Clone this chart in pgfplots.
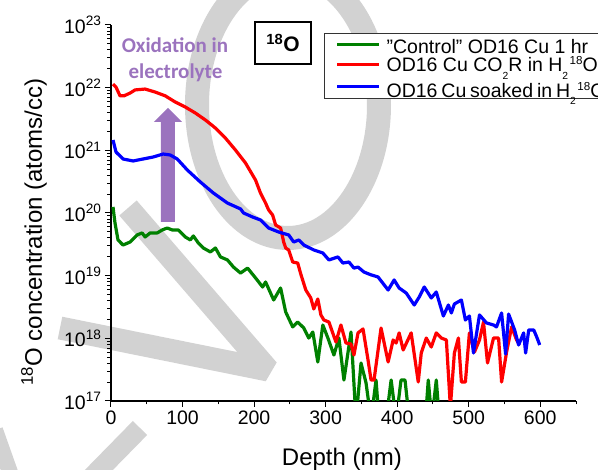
\documentclass[border=0pt]{standalone}
\usepackage{fontspec}
\setmainfont{Liberation Sans}
\newfontfamily\carlito{Carlito}
\usepackage{pgfplots}
\pgfplotsset{compat=1.18}
\usepackage{pgfplotstable}
\definecolor{cgreen}{RGB}{0,128,0}
\definecolor{cred}{RGB}{255,0,0}
\definecolor{cblue}{RGB}{0,0,255}
\definecolor{cpurple}{RGB}{155,115,190}
\definecolor{wm}{RGB}{210,210,210}
\newcommand\lsub[1]{\raisebox{-7.3pt}{\fontsize{10.3}{10}\selectfont #1}}
\newcommand\lsup[1]{\hspace{1.5pt}\raisebox{7pt}{\fontsize{11.6}{11}\selectfont #1}}

\pgfplotstableread{
x y
2.8 1.25e20
5.6 6.92e19
9.8 3.71e19
16.8 3.08e19
26.7 3.44e19
36.5 4.46e19
43.5 4.80e19
47.7 4.14e19
54.7 4.80e19
64.6 4.80e19
71.6 5.36e19
78.6 5.76e19
85.6 5.36e19
94.0 5.36e19
103.9 4.14e19
110.9 3.71e19
115.1 4.30e19
122.1 3.32e19
129.1 2.76e19
138.9 2.39e19
146.0 2.76e19
153.0 1.99e19
162.8 1.78e19
171.2 1.37e19
181.1 1.10e19
190.9 1.32e19
202.1 9.18e18
211.9 6.59e18
216.1 7.92e18
227.4 4.09e18
237.1 6.35e18
244.2 2.63e18
254.0 1.52e18
261.0 1.82e18
269.5 1.46e18
276.5 1.01e18
282.1 1.26e18
289.1 4.19e17
296.1 1.63e18
303.2 1.01e18
311.6 5.42e17
318.6 1.01e18
325.6 2.16e17
335.5 1.26e18
342.5 5e16
349.5 4.04e17
356.5 1.94e17
363.5 5e16
370.5 2.16e17
374.7 5e16
384.6 5e16
391.6 2.16e17
398.6 5e16
405.4 2.16e17
411.0 2.16e17
417.0 5e16
439.5 5e16
443.5 2.16e17
448.5 5e16
454.7 2.16e17
459.0 5e16
}\greendata

\pgfplotstableread{
x y
2.8 1.14e22
7.0 1.02e22
12.6 7.4e21
18.2 7.4e21
26.7 8.2e21
33.7 9.2e21
47.7 9.5e21
61.8 8.5e21
75.8 7.4e21
89.8 5.9e21
103.9 4.9e21
117.9 3.94e21
131.9 3.05e21
145.9 2.27e21
159.9 1.57e21
174.0 1.01e21
188.0 6.28e20
202.0 3.36e20
209.0 2.08e20
216.1 1.44e20
220.3 1.12e20
225.9 9.29e19
230.1 6.43e19
237.1 5.76e19
241.4 3.44e19
244.2 2.76e19
248.4 2.57e19
254.0 1.65e19
261.0 1.59e19
265.3 1.06e19
272.3 5.90e18
279.3 4.40e18
283.5 2.94e18
289.1 4.24e18
293.4 2.36e18
297.6 1.96e18
304.6 1.82e18
314.4 8.74e17
321.4 1.63e18
328.4 8.42e17
335.5 8.12e17
339.6 5.42e17
345.3 1.22e18
352.3 1.41e18
359.3 4.51e17
363.5 2.16e17
367.7 2.16e17
377.5 1.46e18
387.4 4.19e17
394.4 9.40e17
398.6 8.42e17
402.8 1.22e18
408.4 6.51e17
419.6 1.22e18
429.5 2.01e17
433.7 5.83e17
440.7 1.01e18
447.7 7.27e17
454.7 1.22e18
461.8 1.01e18
468.8 9.40e17
474.4 8e16
480.0 5.83e17
485.6 1.01e18
489.8 2.01e17
495.4 2.01e17
501.0 1.22e18
508.1 6.05e17
515.1 9.40e17
520.7 1.82e18
526.3 4.04e17
534.7 1.01e18
541.8 1.01e18
546.0 2.01e17
553.0 6.05e17
560.0 1.52e18
567.0 9.40e17
571.2 7.83e17
}\reddata

\pgfplotstableread{
x y
2.8 1.46e21
7.0 9.4e20
16.8 7.27e20
30.9 6.76e20
44.9 7.27e20
58.9 7.82e20
73.0 8.73e20
82.8 8.42e20
92.6 7.27e20
106.7 4.85e20
124.9 3.12e20
143.2 2.08e20
162.8 1.44e20
181.1 1.16e20
185.3 1.0e20
197.9 8.63e19
209.0 7.73e19
220.3 5.76e19
234.4 4.97e19
248.4 4.46e19
255.4 3.44e19
262.5 3.71e19
269.5 3.08e19
283.5 2.57e19
296.1 2.30e19
304.6 1.78e19
317.2 1.99e19
324.2 1.59e19
332.6 1.65e19
339.6 1.32e19
345.3 1.37e19
353.7 1.14e19
363.5 1.03e19
373.3 9.52e18
387.4 5.90e18
395.8 8.53e18
402.8 6.35e18
412.6 5.29e18
423.9 3.40e18
430.9 4.57e18
437.9 6.59e18
447.7 4.40e18
454.7 5.48e18
464.6 2.27e18
471.6 3.40e18
475.8 2.54e18
480.0 3.53e18
489.8 4.09e18
495.4 1.96e18
501.0 2.27e18
506.7 5.83e17
515.1 2.36e18
524.9 1.76e18
534.7 1.63e18
538.9 1.52e18
546.0 2.54e18
551.6 5.62e17
555.8 2.44e18
564.2 1.36e18
569.8 7.83e17
576.8 1.22e18
579.6 5.83e17
583.9 1.36e18
590.9 1.36e18
595.1 1.05e18
599.3 7.83e17
}\bluedata

\begin{document}
\begin{tikzpicture}[x=1pt,y=1pt]
% watermark
\begin{scope}[wm]
\draw[line width=24pt] (177,296) ellipse [x radius=91pt, y radius=133pt];
\draw[line width=23pt, line join=bevel] (-51,73) -- (157,31) -- (17,193);
\draw[line width=20pt] (29,-27) -- (-19,-76);
\draw[line width=16pt] (-116,-29) -- (-99,-77);
\end{scope}
% arrow
\fill[cpurple] (50,179) -- (64,179) -- (64,279) -- (71,279) -- (57,293) -- (43,279) -- (50,279) -- cycle;
\node[anchor=base, text=cpurple, font=\carlito\bfseries\fontsize{21}{25}\selectfont] at (64,348) {Oxidation in};
\node[anchor=base, text=cpurple, font=\carlito\bfseries\fontsize{21}{25}\selectfont] at (64.5,322) {electrolyte};

\begin{axis}[
  at={(0,0)}, anchor=south west,
  scale only axis, width=465pt, height=376pt,
  xmin=0, xmax=650, ymin=1e17, ymax=1e23,
  ymode=log, log basis y=10,
  axis lines*=left,
  axis line style={line width=1.2pt},
  tick align=outside,
  major tick length=6pt, minor tick length=3.5pt,
  every major tick/.style={black, line width=1pt},
  every minor tick/.style={black, line width=0.9pt},
  xtick={0,100,...,600}, minor xtick={50,150,...,650},
  ytick={1e17,1e18,1e19,1e20,1e21,1e22,1e23},
  yticklabels={10\textsuperscript{17},10\textsuperscript{18},10\textsuperscript{19},10\textsuperscript{20},10\textsuperscript{21},10\textsuperscript{22},10\textsuperscript{23}},
  minor ytick={2e17,3e17,4e17,5e17,6e17,7e17,8e17,9e17,2e18,3e18,4e18,5e18,6e18,7e18,8e18,9e18,2e19,3e19,4e19,5e19,6e19,7e19,8e19,9e19,2e20,3e20,4e20,5e20,6e20,7e20,8e20,9e20,2e21,3e21,4e21,5e21,6e21,7e21,8e21,9e21,2e22,3e22,4e22,5e22,6e22,7e22,8e22,9e22},
  ticklabel style={font=\fontsize{19.5}{23}\selectfont},
  /pgf/number format/assume math mode=true,
  legend style={at={(rel axis cs:0.458,0.9787)}, anchor=north west, draw=black!80, line width=0.9pt, fill=white,
    font=\fontsize{19.5}{22}\selectfont, inner xsep=11pt, inner ysep=0pt,
    nodes={inner sep=0pt}, column sep=6pt, row sep=0pt},
  legend cell align=left,
  legend image code/.code={\draw[#1] (0pt,0pt) -- (42pt,0pt);},
]
\addplot[cgreen, line width=3.2pt, line join=round] table[x=x,y=y] {\greendata};
\addlegendentry{\rule[-8pt]{0pt}{28pt}\symbol{34}Control\symbol{34} OD16 Cu 1 hr}
\addplot[cred, line width=3.2pt, line join=round] table[x=x,y=y] {\reddata};
\addlegendentry{\rule[-9pt]{0pt}{26pt}OD16 Cu CO\lsub{2}R in H\lsub{2}\lsup{18}O}
\addplot[cblue, line width=3.2pt, line join=round] table[x=x,y=y] {\bluedata};
\addlegendentry{\rule[-9pt]{0pt}{33pt}{\spaceskip=3.9pt\relax OD16 Cu soaked in H\lsub{2}\lsup{18}O}}
\end{axis}

\node[draw, line width=1.2pt, fill=white, minimum width=56pt, minimum height=42pt, inner sep=0pt,
  font=\bfseries\fontsize{21}{24}\selectfont] at (172,358) {\textsuperscript{18}O};
\node[anchor=base, font=\fontsize{24}{28}\selectfont] at (231,-65) {Depth (nm)};
\node[rotate=90, anchor=base, font=\fontsize{24}{28}\selectfont] at (-69,169) {\textsuperscript{18}O concentration (atoms/cc)};

\pgfresetboundingbox
\useasboundingbox (-111,-69) rectangle (487,401);
\end{tikzpicture}
\end{document}
